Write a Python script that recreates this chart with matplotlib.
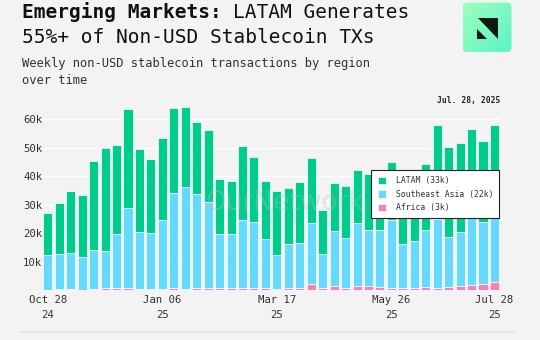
import matplotlib.pyplot as plt
import numpy as np
from matplotlib.patches import FancyBboxPatch, Polygon, Patch

# weekly non-USD stablecoin tx counts (thousands), Oct 28 2024 .. Jul 28 2025
latam = [14.7, 18.0, 21.8, 21.7, 31.2, 36.2, 31.2, 34.8, 29.0, 25.9,
         28.8, 30.0, 28.1, 25.1, 25.2, 19.2, 18.6, 25.8, 22.9, 20.1,
         22.3, 19.6, 21.5, 22.7, 15.4, 16.7, 18.0, 18.4, 19.6, 17.0,
         20.2, 16.7, 18.6, 23.2, 32.8, 31.6, 31.0, 31.3, 28.4, 32.6]
sea = [12.1, 12.4, 12.8, 11.3, 13.7, 12.8, 18.8, 28.0, 20.0, 19.6,
       24.2, 33.3, 35.5, 33.2, 29.9, 19.0, 19.2, 23.8, 22.9, 17.2,
       11.8, 15.5, 15.6, 21.7, 11.8, 19.5, 17.5, 22.3, 19.4, 20.0,
       23.8, 15.6, 16.5, 20.0, 24.3, 17.6, 19.1, 23.4, 21.6, 22.3]
africa = [0.1, 0.3, 0.3, 0.2, 0.5, 0.8, 0.9, 0.8, 0.5, 0.4,
          0.4, 0.6, 0.5, 0.6, 0.9, 0.6, 0.6, 0.9, 0.9, 0.9,
          0.5, 0.7, 0.9, 2.0, 0.9, 1.3, 0.9, 1.4, 1.6, 1.1,
          0.8, 0.7, 0.9, 1.1, 0.8, 1.1, 1.4, 1.9, 2.2, 3.0]
tick_idx = [0, 10, 20, 30, 39]
tick_labels = ['Oct 28\n24', 'Jan 06\n25', 'Mar 17\n25', 'May 26\n25', 'Jul 28\n25']
yticks = [10, 20, 30, 40, 50, 60]

BG = '#f3f3f3'
C_LATAM = '#00cc8e'
C_SEA = '#66d9ff'
C_AFR = '#ff7eb6'
MONO = 'DejaVu Sans Mono'

W, H = 540, 340
fig = plt.figure(figsize=(W / 100, H / 100), dpi=100, facecolor=BG)

ax = fig.add_axes([42.1 / W, (H - 290.2) / H, (500.2 - 42.1) / W, 185.5 / H])
ax.set_facecolor(BG)

x = np.arange(len(latam))
a = np.array(africa)
s = np.array(sea)
l = np.array(latam)
kw = dict(width=0.79, edgecolor='white', linewidth=0.5, zorder=3)
ax.bar(x, a, color=C_AFR, **kw)
ax.bar(x, s, bottom=a, color=C_SEA, **kw)
ax.bar(x, l, bottom=a + s, color=C_LATAM, **kw)

ax.set_xlim(-0.5, len(latam) - 0.5)
ax.set_ylim(0, 65)
ax.set_yticks(yticks)
ax.set_yticklabels([f'{v}k' for v in yticks])
ax.set_xticks(tick_idx)
ax.set_xticklabels(tick_labels, linespacing=1.6)
ax.tick_params(axis='both', length=0, labelsize=7.7, labelcolor='#333333',
               labelfontfamily=MONO)
ax.tick_params(axis='x', pad=3.5)
ax.tick_params(axis='y', pad=0)
ax.grid(axis='y', color='white', linewidth=1.0, zorder=0)
for sp in ax.spines.values():
    sp.set_visible(False)

# faint watermark
ax.text(0.53, 0.47, 'OurNetwork', transform=ax.transAxes, ha='center', va='center',
        fontsize=19, color='#b8bcc0', alpha=0.3, zorder=5)

ax.text(len(latam) - 0.5, 1.0, 'Jul. 28, 2025', transform=ax.get_xaxis_transform(),
        ha='right', va='bottom', fontsize=5.8, fontweight='bold', family=MONO,
        color='#222222')

handles = [Patch(facecolor=C_LATAM, edgecolor='white', linewidth=0.5),
           Patch(facecolor=C_SEA, edgecolor='white', linewidth=0.5),
           Patch(facecolor=C_AFR, edgecolor='white', linewidth=0.5)]
labels = [f'LATAM ({l[-1]:.0f}k)', f'Southeast Asia ({s[-1]:.0f}k)',
          f'Africa ({a[-1]:.0f}k)']
leg = fig.legend(handles, labels, loc='upper right',
                 bbox_to_anchor=(499.3 / W, (H - 170) / H), borderaxespad=0,
                 prop={'family': MONO, 'size': 5.9}, handlelength=1.0,
                 handleheight=1.0, handletextpad=1.2, labelspacing=0.55,
                 borderpad=0.75, fancybox=False, framealpha=1)
leg.get_frame().set_edgecolor('#222222')
leg.get_frame().set_linewidth(0.8)
for t in leg.get_texts():
    t.set_color('#333333')

# title and subtitle
title_fs = 14
fig.text(22 / W, (H - 18) / H, 'Emerging Markets:', fontsize=title_fs,
         fontweight='bold', family=MONO, color='#111111', va='baseline')
char_w = 0.602 * title_fs * 100 / 72
fig.text((22 + 18 * char_w) / W, (H - 18) / H, 'LATAM Generates', fontsize=title_fs,
         family=MONO, color='#111111', va='baseline')
fig.text(22 / W, (H - 43) / H, '55%+ of Non-USD Stablecoin TXs', fontsize=title_fs,
         family=MONO, color='#111111', va='baseline')
fig.text(22 / W, (H - 67) / H, 'Weekly non-USD stablecoin transactions by region',
         fontsize=8.7, family=MONO, color='#333333', va='baseline')
fig.text(22 / W, (H - 83.5) / H, 'over time', fontsize=8.7, family=MONO,
         color='#333333', va='baseline')

# bottom rule
fig.add_artist(plt.Line2D([21 / W, 514 / W], [(H - 331.6) / H] * 2,
                          color='#e2e2e2', linewidth=1.2))

# logo badge
lax = fig.add_axes([462 / W, (H - 52.7) / H, 50 / W, 50.7 / H])
lax.set_xlim(0, 50)
lax.set_ylim(50.7, 0)
lax.axis('off')
grad = np.linspace(0, 1, 64)
img = np.zeros((64, 64, 3))
c0 = np.array([0.62, 1.0, 0.74])
c1 = np.array([0.36, 0.95, 0.78])
for i in range(64):
    for j in range(64):
        t = (grad[i] + grad[j]) / 2
        img[i, j] = c0 * (1 - t) + c1 * t
box = FancyBboxPatch((0.5, 0.5), 49, 49.7, boxstyle='round,pad=0,rounding_size=5',
                     facecolor='none', edgecolor='none')
lax.add_patch(box)
im = lax.imshow(img, extent=(0.5, 49.5, 50.2, 0.5), aspect='auto')
im.set_clip_path(box)
lax.add_patch(Polygon([(15.7, 16), (36.3, 16), (36.3, 37.3)], closed=True,
                      facecolor='#0d1a14', edgecolor='none'))
lax.add_patch(Polygon([(14.7, 27.3), (14.7, 37.3), (24.7, 37.3)], closed=True,
                      facecolor='#0d1a14', edgecolor='none'))

fig.savefig('out.png', dpi=100, facecolor=BG)
